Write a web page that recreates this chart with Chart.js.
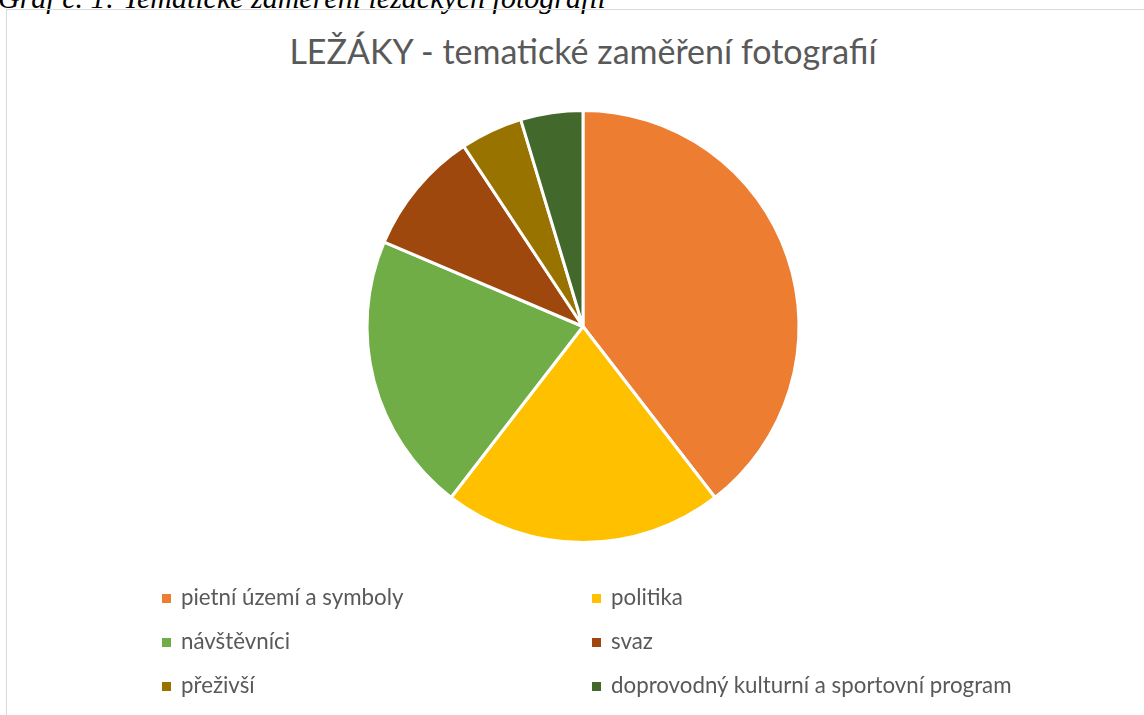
<!DOCTYPE html>
<html>
<head>
<meta charset="utf-8">
<script src="https://cdn.jsdelivr.net/npm/chart.js@4"></script>
<style>
  body { margin: 0; background: #fff; width: 1144px; height: 715px; overflow: hidden; position: relative; }
  #caption { position: absolute; left: -2px; top: -19px; font: italic 30px "Liberation Serif", serif; color: #000; white-space: nowrap; }
  #frame { position: absolute; left: 6px; top: 9px; width: 1200px; height: 800px; border: 1px solid #d9d9d9; box-sizing: border-box; }
  #title { position: absolute; left: 0; width: 1166px; top: 30px; text-align: center; font: 34px Lato, sans-serif; color: #595959; }
  #wrap { position: absolute; left: 0; top: 0; width: 1144px; height: 715px; }
  #legend { position: absolute; left: 162px; top: 583px; font: 22.3px Lato, sans-serif; color: #595959; }
  .item { position: absolute; white-space: nowrap; }
  .box { display: inline-block; width: 9px; height: 9px; margin-right: 10px; vertical-align: 2px; }
</style>
</head>
<body>
<div id="caption">Graf č. 1: Tematické zaměření ležáckých fotografií</div>
<div id="frame"></div>
<div id="title">LEŽÁKY - tematické zaměření fotografií</div>
<div id="wrap"><canvas id="myChart" width="1144" height="715"></canvas></div>
<div id="legend"></div>
<script>
var labels = ['pietní území a symboly', 'politika', 'návštěvníci', 'svaz', 'přeživší', 'doprovodný kulturní a sportovní program'];
var counts = [17, 9, 9, 4, 2, 2];
var colors = ['#ED7D31', '#FFC000', '#70AD47', '#9E480E', '#997300', '#43682B'];

var ctx = document.getElementById('myChart').getContext('2d');
var myChart = new Chart(ctx, {
    type: 'pie',
    data: {
      labels: labels,
      datasets: [{
          data: counts,
          backgroundColor: colors,
          borderColor: '#ffffff',
          borderWidth: 3,
          radius: 216
      }]
    },
    options: {
      responsive: false,
      animation: false,
      layout: {
        padding: { left: 100, right: 78, top: 80, bottom: 142 }
      },
      plugins: {
        legend: { display: false },
        tooltip: { enabled: false }
      }
    }
});

// two-column legend under the pie
var legend = document.getElementById('legend');
labels.forEach(function (name, i) {
  var div = document.createElement('div');
  div.className = 'item';
  div.style.left = (i % 2 ? 430 : 0) + 'px';
  div.style.top = (Math.floor(i / 2) * 44) + 'px';
  div.innerHTML = '<span class="box" style="background:' + colors[i] + '"></span>' + name;
  legend.appendChild(div);
});
</script>
</body>
</html>
